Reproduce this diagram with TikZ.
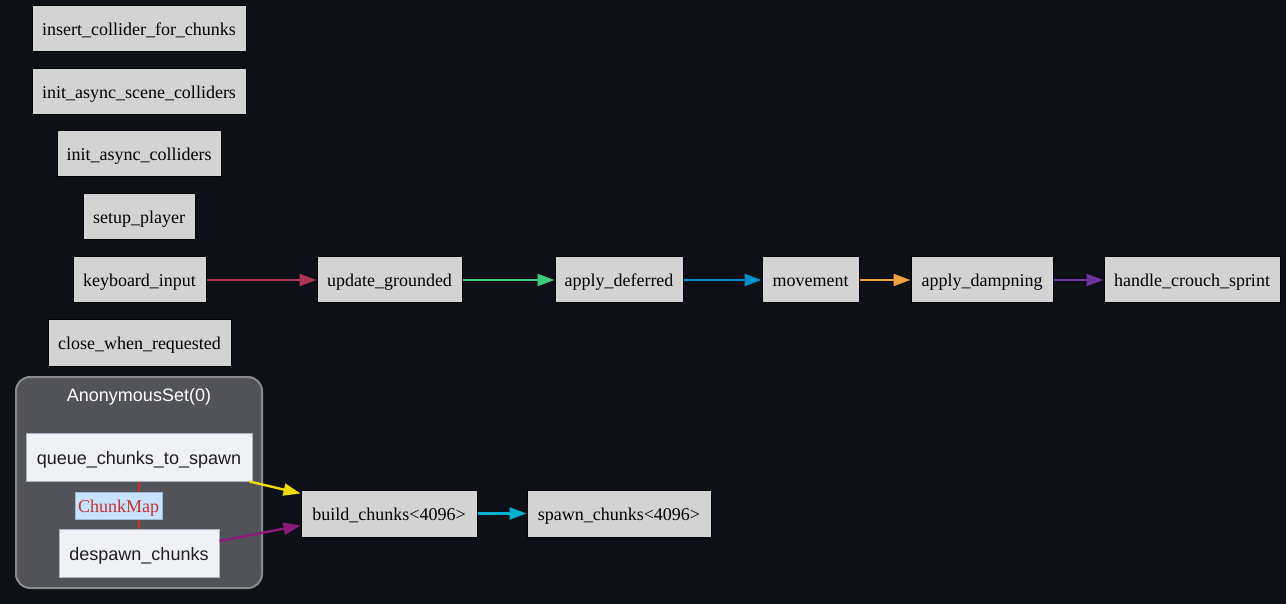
\documentclass[tikz,border=0pt]{standalone}
\usepackage{fontspec}
\setmainfont{Liberation Serif}
\setsansfont{Liberation Sans}
\usetikzlibrary{arrows.meta}
\definecolor{bg}{HTML}{0D1017}
\definecolor{sysfill}{HTML}{D3D3D3}
\definecolor{setfill}{HTML}{525359}
\definecolor{setborder}{HTML}{8A8A8A}
\definecolor{innerfill}{HTML}{EFF1F4}
\definecolor{innerborder}{HTML}{A8B4C0}
\definecolor{ekey}{HTML}{B03352}
\definecolor{egreen}{HTML}{3FCB7F}
\definecolor{eblue}{HTML}{0090D0}
\definecolor{eorange}{HTML}{F0A040}
\definecolor{epurple}{HTML}{6A35A0}
\definecolor{eyellow}{HTML}{F0DC00}
\definecolor{emagenta}{HTML}{8E1A78}
\definecolor{ecyan}{HTML}{00B0D0}
\definecolor{cmred}{HTML}{C83228}
\definecolor{cmfill}{HTML}{C6E2FF}
\definecolor{cmborder}{HTML}{A0B8D0}
\begin{document}
\begin{tikzpicture}[x=1pt,y=-1pt,
  sys/.style={draw=black,fill=sysfill,line width=1pt,font=\fontsize{18}{21}\selectfont,
    inner sep=0pt,minimum height=46pt,text height=17pt,text depth=3.5pt,text=black},
  inner/.style={draw=innerborder,fill=innerfill,line width=1pt,font=\sffamily\fontsize{18}{21}\selectfont,
    inner sep=0pt,minimum height=48pt,text height=18pt,text depth=2.7pt,text=black!88},
  edge/.style={line width=2.4pt,-{Triangle[length=17pt,width=12pt]}},
]
\fill[bg] (0,0) rectangle (1286,604);
\useasboundingbox (0,0) rectangle (1286,604);

% set cluster
\draw[setborder,fill=setfill,line width=2pt,rounded corners=14pt] (16,377) rectangle (262,588);
\node[font=\sffamily\fontsize{18}{21}\selectfont,text=white,inner sep=0pt,
  text height=18pt,text depth=2.7pt] (settitle) at (139,394) {AnonymousSet(0)};

% standalone systems
\node[sys,minimum width=214pt] (icfc) at (139,29) {insert\_collider\_for\_chunks};
\node[sys,minimum width=214pt] (iasc) at (139,92) {init\_async\_scene\_colliders};
\node[sys,minimum width=164pt] (iac) at (139,154) {init\_async\_colliders};
\node[sys,minimum width=112pt] (sp) at (139,217) {setup\_player};
\node[sys,minimum width=133pt] (ki) at (139.5,280) {keyboard\_input};
\node[sys,minimum width=183pt] (cwr) at (139.5,343) {close\_when\_requested};

% movement chain
\node[sys,minimum width=145pt] (ug) at (389.5,280) {update\_grounded};
\node[sys,minimum width=128pt] (ad) at (619,280) {apply\_deferred};
\node[sys,minimum width=97pt] (mv) at (810.5,280) {movement};
\node[sys,minimum width=142pt] (adp) at (982,280) {apply\_dampning};
\node[sys,minimum width=176pt] (hcs) at (1192,280) {handle\_crouch\_sprint};

% chunk systems
\node[inner,minimum width=226pt] (qcs) at (139,457) {queue\_chunks\_to\_spawn};
\node[inner,minimum width=160pt] (dc) at (139,553) {despawn\_chunks};
\node[sys,minimum width=176pt,minimum height=47pt] (bc) at (389,513.5) {build\_chunks<4096>};
\node[sys,minimum width=184pt,minimum height=47pt] (sc) at (619,513.5) {spawn\_chunks<4096>};

% resource conflict
\draw[cmred,line width=2.4pt] (qcs.south) -- (dc.north);
\node[draw=cmborder,line width=0.6pt,fill=cmfill,text=cmred,font=\fontsize{18}{21}\selectfont,inner sep=0pt,
  text height=17pt,text depth=4pt,
  minimum width=87pt,minimum height=27pt] (cm) at (118.5,505.5) {ChunkMap};

% edges
\draw[edge,ekey] (ki) -- (ug);
\draw[edge,egreen] (ug) -- (ad);
\draw[edge,eblue] (ad) -- (mv);
\draw[edge,eorange] (mv) -- (adp);
\draw[edge,epurple] (adp) -- (hcs);
\draw[edge,eyellow] ([xshift=-3pt]qcs.south east) -- ([yshift=-4pt]bc.north west);
\draw[edge,emagenta] ([yshift=12pt]dc.east) -- ([yshift=12pt]bc.south west);
\draw[edge,ecyan] (bc) -- (sc);
\end{tikzpicture}
\end{document}
